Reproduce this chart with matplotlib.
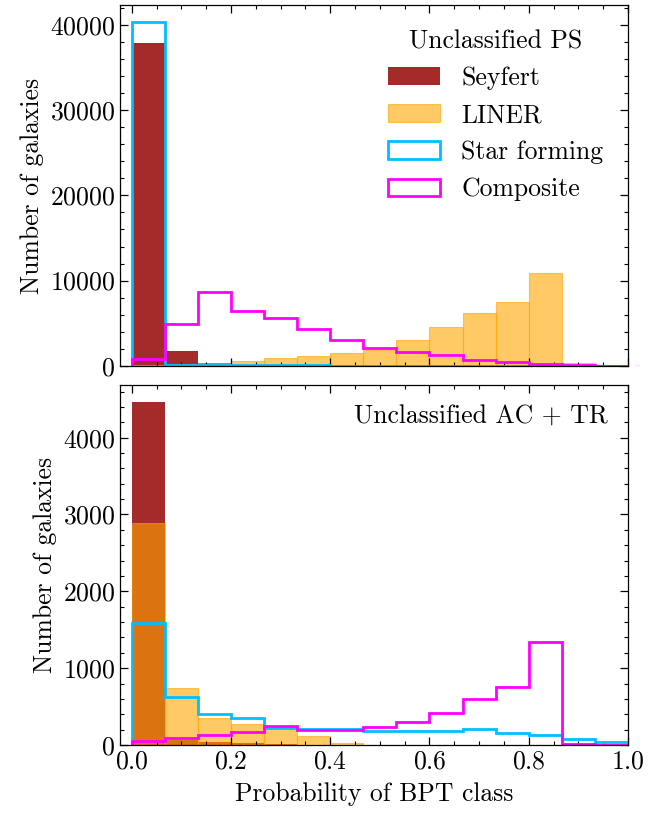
import numpy as np
import matplotlib
matplotlib.use("Agg")
import matplotlib.pyplot as plt
from matplotlib.ticker import MultipleLocator

plt.rcParams['font.family'] = 'serif'
plt.rcParams['font.serif'] = ['cmr10', 'DejaVu Serif']
plt.rcParams['mathtext.fontset'] = 'cm'
plt.rcParams['axes.formatter.use_mathtext'] = True
plt.rcParams['font.size'] = 18.5

# 15 equal bins on [0, 1]
bin_edges = np.linspace(0, 1, 16)
centers = 0.5 * (bin_edges[:-1] + bin_edges[1:])

# Unclassified PS
ps_seyfert = [37800, 1760, 330, 60, 30, 20, 15, 10, 10, 5, 5, 5, 0, 0, 0]
ps_liner = [150, 200, 330, 620, 940, 1170, 1530, 1880, 3050, 4580, 6220, 7510, 10920, 350, 60]
ps_sf = [40300, 150, 100, 80, 70, 60, 50, 50, 40, 40, 30, 30, 20, 20, 10]
ps_comp = [860, 4930, 8690, 6460, 5670, 4340, 3010, 2110, 1600, 1250, 670, 470, 200, 120, 40]

# Unclassified AC + TR
ac_seyfert = [4462, 70, 40, 20, 10, 5, 5, 0, 0, 0, 0, 0, 0, 0, 0]
ac_liner = [2892, 740, 355, 275, 235, 117, 22, 5, 0, 0, 0, 0, 0, 0, 0]
ac_sf = [1582, 627, 402, 346, 216, 210, 203, 186, 186, 177, 207, 160, 125, 82, 43]
ac_comp = [56, 91, 134, 173, 242, 199, 199, 233, 298, 415, 593, 761, 1336, 12, 5]


def draw(ax, sey, lin, sf, comp):
    ax.hist(centers, bins=bin_edges, weights=sey, color='brown', label='Seyfert')
    ax.hist(centers, bins=bin_edges, weights=lin, color='orange', alpha=0.6,
            ec='orange', lw=0.8, label='LINER')
    ax.hist(centers, bins=bin_edges, weights=sf, histtype='step', color='deepskyblue',
            lw=2, label='Star forming')
    ax.hist(centers, bins=bin_edges, weights=comp, histtype='step', color='magenta',
            lw=2, label='Composite')
    ax.set_xlim(-0.0235, 1)
    ax.set_ylabel('Number of galaxies')
    ax.xaxis.set_major_locator(MultipleLocator(0.2))
    ax.xaxis.set_minor_locator(MultipleLocator(0.05))
    ax.tick_params(which='both', direction='in', top=True, right=True)
    ax.tick_params(which='major', length=6, width=0.9)
    ax.tick_params(which='minor', length=3, width=0.8)
    for s in ax.spines.values():
        s.set_linewidth(0.9)


fig = plt.figure(figsize=(6.67, 8.15), dpi=100)
ax1 = fig.add_axes([0.18, 0.551, 0.7615, 0.4429])
ax2 = fig.add_axes([0.18, 0.0859, 0.7615, 0.4417])

draw(ax1, ps_seyfert, ps_liner, ps_sf, ps_comp)
ax1.yaxis.set_major_locator(MultipleLocator(10000))
ax1.yaxis.set_minor_locator(MultipleLocator(2000))
ax1.tick_params(labelbottom=False)
ax1.legend(title='Unclassified PS', frameon=False, loc='upper right',
           handlelength=2.0, handleheight=0.7, labelspacing=0.52, handletextpad=0.85,
           borderaxespad=0.55)

draw(ax2, ac_seyfert, ac_liner, ac_sf, ac_comp)
ax2.yaxis.set_major_locator(MultipleLocator(1000))
ax2.yaxis.set_minor_locator(MultipleLocator(200))
ax2.text(0.96, 0.945, 'Unclassified AC + TR', transform=ax2.transAxes,
         ha='right', va='top')
ax2.set_xlabel('Probability of BPT class', labelpad=6)

fig.align_ylabels([ax1, ax2])
fig.savefig('out.png', dpi=100)
